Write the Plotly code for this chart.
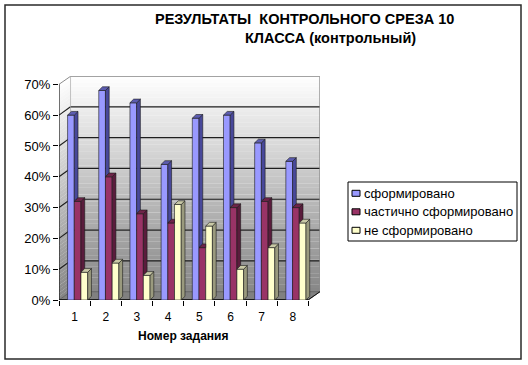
import plotly.graph_objects as go

# ---------------- data ----------------
categories = [1, 2, 3, 4, 5, 6, 7, 8]
tick_labels = ["1", "2", "3", "4", "5", "6", "7", "8"]
series_names = ["сформировано", "частично сформировано", "не сформировано"]
formed = [60, 68, 64, 44, 59, 60, 51, 45]
partial = [32, 40, 28, 25, 17, 30, 32, 30]
not_formed = [9, 12, 8, 31, 24, 10, 17, 25]
y_ticks = [0, 10, 20, 30, 40, 50, 60, 70]

title_line1 = "РЕЗУЛЬТАТЫ  КОНТРОЛЬНОГО СРЕЗА 10"
title_line2 = "КЛАССА (контрольный)"
x_title = "Номер задания"

# ---------------- style ----------------
series = [formed, partial, not_formed]
front_colors = ["#9999FF", "#993366", "#FFFFCC"]
side_colors = ["#48489A", "#5A1C3C", "#9A9A7E"]
top_colors = ["#5C5CB0", "#6E2449", "#C9C9A6"]
EDGE = "#1a1a1a"
FONT = "Arial, Liberation Sans, sans-serif"

BAR_W = 0.215
offsets = [-0.225, -0.01, 0.205]
DX, DY = 0.12, 1.2            # bar depth (x units, y units)
WALL_DX, WALL_DY = 0.37, 2.7  # wall depth
X_LO, X_HI = 0.5, 8.5
X_RANGE = [X_LO, X_HI + WALL_DX]
Y_TOP = 70 + WALL_DY

W_PX, H_PX = 528, 365
# plot area in window pixels: x 59..320, y 76..300
L, T = 59, 76
R, B = W_PX - 320, H_PX - 300
PW, PH = W_PX - L - R, H_PX - T - B


def px_to_paper(px, py):
    return (px - L) / PW, (H_PX - B - py) / PH


def poly(pts):
    return "M" + " L".join(f"{x},{y}" for x, y in pts) + " Z"


fig = go.Figure()

# 3D faces (side and top) computed from the data
for i, vals in enumerate(series):
    nxt = series[i + 1] if i + 1 < len(series) else None
    for j, c in enumerate(categories):
        v = vals[j]
        x0 = c + offsets[i]
        x1 = x0 + BAR_W
        vn = nxt[j] if nxt is not None else 0
        bottom = max(0, vn)
        if bottom < v:
            xs = [x1, x1 + DX, x1 + DX, x1, x1]
            ys = [bottom, bottom + DY, v + DY, v, bottom]
            fig.add_trace(go.Scatter(x=xs, y=ys, mode="lines", fill="toself",
                                     fillcolor=side_colors[i],
                                     line=dict(color=EDGE, width=0.6),
                                     hoverinfo="skip", showlegend=False))
        if nxt is not None and vn > v + DY:
            xs = [x0, x1, x1, x0 + DX, x0]
        else:
            xs = [x0, x1, x1 + DX, x0 + DX, x0]
        ys = [v, v, v + DY, v + DY, v]
        fig.add_trace(go.Scatter(x=xs, y=ys, mode="lines", fill="toself",
                                 fillcolor=top_colors[i],
                                 line=dict(color=EDGE, width=0.6),
                                 hoverinfo="skip", showlegend=False))

# front faces as bars
for i, vals in enumerate(series):
    fig.add_trace(go.Bar(x=categories, y=vals, name=series_names[i],
                         width=BAR_W, offset=offsets[i],
                         marker=dict(color=front_colors[i],
                                     line=dict(color=EDGE, width=0.6)),
                         showlegend=False))

shapes = []
n_strips = 60


def grad(t):  # t=0 bottom, 1 top
    g0, g1 = 0x86, 0xFF
    g = int(round(g0 + (g1 - g0) * t))
    return f"rgb({g},{g},{g})"


for k in range(n_strips):
    ya = WALL_DY + (Y_TOP - WALL_DY) * k / n_strips
    yb = WALL_DY + (Y_TOP - WALL_DY) * (k + 1) / n_strips
    col = grad((k + 0.5) / n_strips)
    shapes.append(dict(type="rect", xref="x", yref="y", x0=X_LO + WALL_DX, x1=X_RANGE[1],
                       y0=ya, y1=yb + 0.05, fillcolor=col, line=dict(width=0), layer="below"))
    la = 70 * k / n_strips
    lb = 70 * (k + 1) / n_strips
    shapes.append(dict(type="path", xref="x", yref="y", layer="below",
                       path=poly([(X_LO, la), (X_LO + WALL_DX, la + WALL_DY),
                                  (X_LO + WALL_DX, lb + WALL_DY + 0.05), (X_LO, lb + 0.05)]),
                       fillcolor=col, line=dict(width=0)))

# floor
shapes.append(dict(type="path", xref="x", yref="y", layer="below",
                   path=poly([(X_LO, 0), (X_HI, 0), (X_HI + WALL_DX, WALL_DY), (X_LO + WALL_DX, WALL_DY)]),
                   fillcolor="#808080", line=dict(color="#555555", width=0.8)))

# gridlines (back wall + left wall)
for v in y_ticks[1:-1]:
    shapes.append(dict(type="line", xref="x", yref="y", layer="below",
                       x0=X_LO + WALL_DX, x1=X_RANGE[1], y0=v + WALL_DY, y1=v + WALL_DY,
                       line=dict(color="#1e1e1e", width=1.2)))
    shapes.append(dict(type="line", xref="x", yref="y", layer="below",
                       x0=X_LO, x1=X_LO + WALL_DX, y0=v, y1=v + WALL_DY,
                       line=dict(color="#1e1e1e", width=1.2)))

# wall outlines
shapes.append(dict(type="path", xref="x", yref="y", layer="below",
                   path="M%s,%s L%s,%s L%s,%s L%s,%s" % (X_LO, 70, X_LO + WALL_DX, Y_TOP - 0.1,
                                                         X_RANGE[1] - 0.005, Y_TOP - 0.1,
                                                         X_RANGE[1] - 0.005, WALL_DY),
                   line=dict(color="#8c8c8c", width=1)))
shapes.append(dict(type="line", xref="x", yref="y", layer="below",
                   x0=X_LO + WALL_DX, x1=X_LO + WALL_DX, y0=WALL_DY, y1=Y_TOP,
                   line=dict(color="#9a9a9a", width=0.6)))
# front axis edges
shapes.append(dict(type="path", xref="x", yref="y", layer="below",
                   path="M%s,%s L%s,%s L%s,%s L%s,%s" % (X_LO + 0.003, 70, X_LO + 0.003, 0.12,
                                                         X_HI, 0.12, X_HI + WALL_DX, WALL_DY),
                   line=dict(color="#111111", width=1)))

# outer frame
fx0, fy0 = px_to_paper(5, 5)
fx1, fy1 = px_to_paper(521, 359)
shapes.append(dict(type="rect", xref="paper", yref="paper", x0=fx0, y0=fy1, x1=fx1, y1=fy0,
                   line=dict(color="#2a2a2a", width=1.5), fillcolor="rgba(0,0,0,0)"))

# legend box
lx0, ly0 = px_to_paper(348, 182)
lx1, ly1 = px_to_paper(517, 241)
shapes.append(dict(type="rect", xref="paper", yref="paper", x0=lx0, y0=ly1, x1=lx1, y1=ly0,
                   line=dict(color="#000000", width=1), fillcolor="white"))
annotations = []
for i, name in enumerate(series_names):
    cy = 193.3 + 18.5 * i
    sx0, sy0 = px_to_paper(352, cy - 3)
    sx1, sy1 = px_to_paper(360, cy + 3)
    shapes.append(dict(type="rect", xref="paper", yref="paper", x0=sx0, y0=sy1, x1=sx1, y1=sy0,
                       line=dict(color="#000000", width=1), fillcolor=front_colors[i]))
    tx, ty = px_to_paper(362, cy)
    annotations.append(dict(xref="paper", yref="paper", x=tx, y=ty, xanchor="left",
                            yanchor="middle", text=name, showarrow=False,
                            font=dict(family=FONT, size=13, color="#000000")))

# titles
t1x, t1y = px_to_paper(304, 19)
t2x, t2y = px_to_paper(330, 38)
annotations.append(dict(xref="paper", yref="paper", x=t1x, y=t1y, xanchor="center", yanchor="middle",
                        text="<b>" + title_line1 + "</b>", showarrow=False,
                        font=dict(family=FONT, size=14.5, color="#000000")))
annotations.append(dict(xref="paper", yref="paper", x=t2x, y=t2y, xanchor="center", yanchor="middle",
                        text="<b>" + title_line2 + "</b>", showarrow=False,
                        font=dict(family=FONT, size=14.5, color="#000000")))
xtx, xty = px_to_paper(183, 336)
annotations.append(dict(xref="paper", yref="paper", x=xtx, y=xty, xanchor="center", yanchor="middle",
                        text="<b>" + x_title + "</b>", showarrow=False,
                        font=dict(family=FONT, size=12, color="#000000")))

fig.update_layout(
    width=W_PX, height=H_PX,
    margin=dict(l=L, r=R, t=T, b=B),
    paper_bgcolor="white", plot_bgcolor="white",
    barmode="overlay", showlegend=False, hovermode=False,
    shapes=shapes, annotations=annotations,
    font=dict(family=FONT, size=12, color="#000000"),
    xaxis=dict(range=X_RANGE, tickvals=categories, ticktext=tick_labels, ticks="",
               ticklabelstandoff=8,
               showgrid=False, zeroline=False, showline=False,
               tickfont=dict(family=FONT, size=12, color="#000000"),
               minor=dict(tickvals=[c - 0.5 for c in categories] + [categories[-1] + 0.5],
                          ticks="outside", ticklen=5, tickcolor="#000000", showgrid=False)),
    yaxis=dict(range=[0, Y_TOP], tickvals=y_ticks, ticktext=[f"{v}%" for v in y_ticks],
               ticks="outside", ticklen=5, tickcolor="#000000",
               showgrid=False, zeroline=False, showline=False,
               tickfont=dict(family=FONT, size=13, color="#000000")),
)

# remove the default page margin so the figure sits at the window origin
fig.write_html("out.html",
               config={"displayModeBar": False},
               post_script="document.body.style.margin='0';document.body.style.overflow='hidden';")
